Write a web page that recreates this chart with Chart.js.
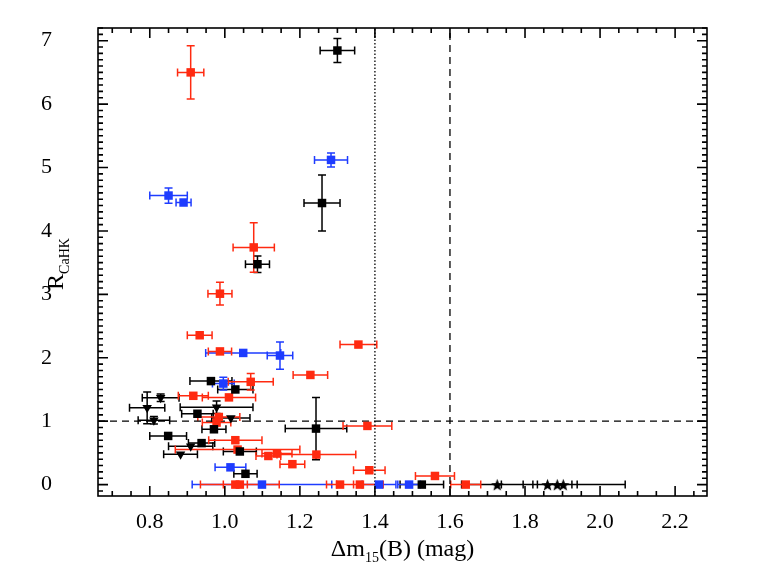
<!DOCTYPE html>
<html>
<head>
<meta charset="utf-8">
<script src="https://cdn.jsdelivr.net/npm/chart.js@4.4.1/dist/chart.umd.min.js"></script>
<style>
  html, body { margin: 0; padding: 0; background: #fff; }
  canvas { display: block; }
</style>
</head>
<body>
<canvas id="chart" width="761" height="588"></canvas>
<script>
// red squares
const redX = [0.909, 1.077, 0.987, 0.933, 1.356, 0.987, 1.228, 1.069, 0.916, 1.011, 0.984, 0.978, 1.380,
  1.028, 1.034, 1.116, 1.139, 1.244, 1.180, 1.385, 1.560, 1.028, 1.040, 1.307, 1.360, 1.642];
const redY = [6.50, 3.74, 3.01, 2.355, 2.208, 2.10, 1.729, 1.62, 1.40, 1.375, 1.066, 0.978, 0.925,
  0.70, 0.552, 0.451, 0.489, 0.473, 0.322, 0.226, 0.136, 0, 0, 0, 0, 0];
const redXErr = [0.035, 0.055, 0.032, 0.033, 0.049, 0.031, 0.046, 0.06, 0.04, 0.071, 0.056, 0.038, 0.065,
  0.071, 0.166, 0.033, 0.04, 0.105, 0.033, 0.042, 0.052, 0.032, 0.105, 0.036, 0.062, 0.04];
const redYErr = [0.42, 0.39, 0.18, 0, 0, 0, 0, 0.13, 0, 0, 0, 0, 0,
  0, 0, 0, 0, 0, 0, 0, 0, 0, 0, 0, 0, 0];

// blue squares
const blueX = [1.283, 0.850, 0.890, 1.049, 1.147, 0.996, 1.015, 1.099, 1.411, 1.491];
const blueY = [5.12, 4.558, 4.448, 2.076, 2.035, 1.593, 0.272, 0, 0, 0];
const blueXErr = [0.044, 0.05, 0.02, 0.10, 0.034, 0.029, 0.041, 0.186, 0.045, 0.03];
const blueYErr = [0.11, 0.12, 0, 0, 0.215, 0.10, 0, 0, 0, 0];

// black squares
const blackX = [1.300, 1.259, 1.087, 0.963, 1.028, 0.927, 1.243, 0.971, 0.849, 0.938, 1.040, 1.055, 1.525];
const blackY = [6.845, 4.44, 3.475, 1.632, 1.50, 1.117, 0.883, 0.872, 0.767, 0.654, 0.522, 0.17, 0];
const blackXErr = [0.046, 0.048, 0.032, 0.056, 0.047, 0.042, 0.082, 0.032, 0.049, 0.035, 0.044, 0.031, 0.058];
const blackYErr = [0.19, 0.44, 0.13, 0, 0, 0, 0.49, 0, 0, 0, 0, 0, 0];

// black down-triangles
const triX = [0.829, 0.793, 0.978, 1.016, 0.811, 0.909, 0.882];
const triY = [1.37, 1.21, 1.22, 1.05, 1.014, 0.604, 0.478];
const triXErr = [0.049, 0.047, 0.097, 0.051, 0.042, 0.059, 0.045];
const triYErr = [0.06, 0.25, 0.1, 0, 0.06, 0, 0];

// black stars
const starX = [1.726, 1.860, 1.886, 1.902];
const starY = [0, 0, 0, 0];
const starXErr = [0.095, 0.065, 0.053, 0.165];
const starYErr = [0, 0, 0, 0];

const xTicks = [0.8, 1.0, 1.2, 1.4, 1.6, 1.8, 2.0, 2.2];
const yTicks = [0, 1, 2, 3, 4, 5, 6, 7];
const xMin = 0.662, xMax = 2.285, yMin = -0.18, yMax = 7.2;
const vDotted = 1.4, vDashed = 1.6, hDashed = 1;

const RED = "#ff2a10";
const BLUE = "#1e3cff";
const FONT = "'Liberation Serif', 'Times New Roman', serif";

function points(xs, ys) {
  return xs.map((x, i) => ({ x, y: ys[i] }));
}

function starImage(size, color) {
  const c = document.createElement("canvas");
  c.width = c.height = size;
  const g = c.getContext("2d");
  const cx = size / 2, cy = size / 2 + size * 0.06, R = size / 2, r = R * 0.42;
  g.fillStyle = color;
  g.beginPath();
  for (let i = 0; i < 10; i++) {
    const a = -Math.PI / 2 + (i * Math.PI) / 5;
    const rr = i % 2 ? r : R;
    g.lineTo(cx + rr * Math.cos(a), cy + rr * Math.sin(a));
  }
  g.closePath();
  g.fill();
  return c;
}

function marks(label, xs, ys, xErr, yErr, color, style, radius, extra) {
  return Object.assign({
    label,
    data: points(xs, ys),
    xErr,
    yErr,
    backgroundColor: color,
    borderColor: color,
    borderWidth: 0,
    pointStyle: style,
    pointRadius: radius,
    order: 1,
  }, extra || {});
}

function refLine(label, data, dash) {
  return {
    type: "line",
    label,
    data,
    borderColor: "#000",
    borderWidth: 1.3,
    borderDash: dash,
    pointRadius: 0,
    showLine: true,
    fill: false,
    order: 5,
  };
}

const errorBars = {
  id: "errorBars",
  beforeDatasetsDraw(chart) {
    const { ctx, scales: { x, y } } = chart;
    ctx.save();
    ctx.lineWidth = 1.5;
    chart.data.datasets.forEach((ds) => {
      if (!ds.xErr) return;
      ctx.strokeStyle = ds.borderColor;
      ctx.beginPath();
      ds.data.forEach((p, i) => {
        const px = x.getPixelForValue(p.x), py = y.getPixelForValue(p.y);
        const ex = ds.xErr[i], ey = ds.yErr[i];
        if (ex) {
          const x0 = x.getPixelForValue(p.x - ex), x1 = x.getPixelForValue(p.x + ex);
          ctx.moveTo(x0, py); ctx.lineTo(x1, py);
          ctx.moveTo(x0, py - 4); ctx.lineTo(x0, py + 4);
          ctx.moveTo(x1, py - 4); ctx.lineTo(x1, py + 4);
        }
        if (ey) {
          const y0 = y.getPixelForValue(p.y - ey), y1 = y.getPixelForValue(p.y + ey);
          ctx.moveTo(px, y0); ctx.lineTo(px, y1);
          ctx.moveTo(px - 4, y0); ctx.lineTo(px + 4, y0);
          ctx.moveTo(px - 4, y1); ctx.lineTo(px + 4, y1);
        }
      });
      ctx.stroke();
    });
    ctx.restore();
  },
};

const frameTicks = {
  id: "frameTicks",
  afterDatasetsDraw(chart) {
    const { ctx, chartArea: a, scales: { x, y } } = chart;
    ctx.save();
    ctx.strokeStyle = "#000";
    ctx.lineWidth = 1.6;
    ctx.strokeRect(a.left, a.top, a.right - a.left, a.bottom - a.top);
    ctx.beginPath();
    for (let i = 13; i <= 46; i++) {
      const v = i * 0.05;
      if (v < xMin || v > xMax) continue;
      const px = x.getPixelForValue(v);
      const len = i % 4 === 0 ? 10 : 5;
      ctx.moveTo(px, a.bottom); ctx.lineTo(px, a.bottom - len);
      ctx.moveTo(px, a.top); ctx.lineTo(px, a.top + len);
    }
    for (let i = -2; i <= 72; i++) {
      const v = i * 0.1;
      if (v < yMin || v > yMax) continue;
      const py = y.getPixelForValue(v);
      const len = i % 10 === 0 ? 10 : 5;
      ctx.moveTo(a.left, py); ctx.lineTo(a.left + len, py);
      ctx.moveTo(a.right, py); ctx.lineTo(a.right - len, py);
    }
    ctx.stroke();
    ctx.restore();
  },
  afterDraw(chart) {
    const { ctx, chartArea: a } = chart;
    ctx.save();
    ctx.fillStyle = "#000";
    ctx.textBaseline = "alphabetic";
    const big = "24px " + FONT, small = "14px " + FONT;
    // x title: Δm15(B) (mag)
    const parts = [["Δm", big, 0], ["15", small, 6], ["(B) (mag)", big, 0]];
    let w = 0;
    parts.forEach(([t, f]) => { ctx.font = f; w += ctx.measureText(t).width; });
    let cx = (a.left + a.right) / 2 - w / 2;
    const base = 556;
    parts.forEach(([t, f, dy]) => {
      ctx.font = f;
      ctx.fillText(t, cx, base + dy);
      cx += ctx.measureText(t).width;
    });
    // y title: R_CaHK
    ctx.translate(63, (a.top + a.bottom) / 2 + 2);
    ctx.rotate(-Math.PI / 2);
    const yparts = [["R", big, 0], ["CaHK", small, 6]];
    w = 0;
    yparts.forEach(([t, f]) => { ctx.font = f; w += ctx.measureText(t).width; });
    cx = -w / 2;
    yparts.forEach(([t, f, dy]) => {
      ctx.font = f;
      ctx.fillText(t, cx, dy);
      cx += ctx.measureText(t).width;
    });
    ctx.restore();
  },
};

new Chart(document.getElementById("chart"), {
  type: "scatter",
  data: {
    datasets: [
      refLine("dotted", [{ x: vDotted, y: yMin }, { x: vDotted, y: yMax }], [1.5, 2]),
      refLine("dashed", [{ x: vDashed, y: yMin }, { x: vDashed, y: yMax }], [7, 5]),
      refLine("level", [{ x: xMin, y: hDashed }, { x: xMax, y: hDashed }], [7, 5]),
      marks("black stars", starX, starY, starXErr, starYErr, "#000", starImage(13, "#000"), 6),
      marks("black", blackX, blackY, blackXErr, blackYErr, "#000", "rect", 6),
      marks("triangles", triX, triY, triXErr, triYErr, "#000", "triangle", 5.5, { rotation: 180 }),
      marks("blue", blueX, blueY, blueXErr, blueYErr, BLUE, "rect", 6),
      marks("red", redX, redY, redXErr, redYErr, RED, "rect", 6),
    ],
  },
  options: {
    responsive: false,
    animation: false,
    layout: { padding: { top: 28, right: 54, left: 41, bottom: 0 } },
    plugins: { legend: { display: false }, tooltip: { enabled: false } },
    scales: {
      x: {
        type: "linear",
        min: xMin,
        max: xMax,
        grid: { display: false, drawTicks: false },
        border: { display: false },
        afterBuildTicks: (scale) => { scale.ticks = xTicks.map((v) => ({ value: v })); },
        afterFit: (scale) => { scale.height = 92; },
        ticks: {
          color: "#000",
          padding: 13,
          maxRotation: 0,
          font: { family: FONT, size: 22 },
          callback: (v) => Number(v).toFixed(1),
        },
      },
      y: {
        type: "linear",
        min: yMin,
        max: yMax,
        grid: { display: false, drawTicks: false },
        border: { display: false },
        afterBuildTicks: (scale) => { scale.ticks = yTicks.map((v) => ({ value: v })); },
        afterFit: (scale) => { scale.width = 57; },
        ticks: {
          color: "#000",
          padding: 4,
          crossAlign: "far",
          font: { family: FONT, size: 22 },
          callback: (v) => String(v),
        },
      },
    },
  },
  plugins: [errorBars, frameTicks],
});
</script>
</body>
</html>
